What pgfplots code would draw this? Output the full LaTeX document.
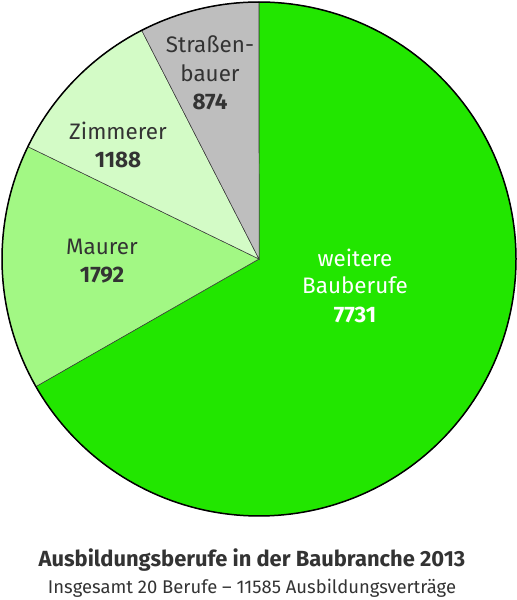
\documentclass[border=0pt]{standalone}
\usepackage{pgfplots}
\pgfplotsset{compat=1.18}
\usepackage{fontspec}
\setmainfont{Fira Sans}
\definecolor{cWeit}{HTML}{22E600}
\definecolor{cMaur}{HTML}{A2F884}
\definecolor{cZimm}{HTML}{D3FBC6}
\definecolor{cStr}{HTML}{BEBEBE}
\definecolor{txt}{HTML}{333333}
\begin{document}
\begin{tikzpicture}[x=1bp,y=1bp]
% values
\def\vW{7731}\def\vM{1792}\def\vZ{1188}\def\vS{874}
\pgfmathsetmacro{\tot}{\vW+\vM+\vZ+\vS}
\pgfmathsetmacro{\aA}{90}
\pgfmathsetmacro{\aB}{90-\vW/\tot*360}
\pgfmathsetmacro{\aC}{\aB-\vM/\tot*360}
\pgfmathsetmacro{\aD}{\aC-\vZ/\tot*360}
\pgfmathsetmacro{\aE}{\aD-\vS/\tot*360}
\begin{axis}[
  scale only axis, width=516bp, height=600bp,
  xmin=0, xmax=516, ymin=0, ymax=600,
  hide axis, clip=false,
]
\path (axis cs:0,0) rectangle (axis cs:516,600);
\addplot[fill=cWeit, draw=black!80, line width=0.5pt, domain=\aB:\aA, samples=120, variable=\t]
  ({259+257*cos(t)}, {341+257*sin(t)}) -- (axis cs:259,341) -- cycle;
\addplot[fill=cMaur, draw=black!80, line width=0.5pt, domain=\aC:\aB, samples=40, variable=\t]
  ({259+257*cos(t)}, {341+257*sin(t)}) -- (axis cs:259,341) -- cycle;
\addplot[fill=cZimm, draw=black!80, line width=0.5pt, domain=\aD:\aC, samples=30, variable=\t]
  ({259+257*cos(t)}, {341+257*sin(t)}) -- (axis cs:259,341) -- cycle;
\addplot[fill=cStr, draw=black!80, line width=0.5pt, domain=\aE:\aD, samples=30, variable=\t]
  ({259+257*cos(t)}, {341+257*sin(t)}) -- (axis cs:259,341) -- cycle;
\addplot[draw=black, line width=1.5pt, domain=0:360, samples=240, variable=\t]
  ({259+257*cos(t)}, {341+257*sin(t)});
% labels
\begin{scope}[every node/.style={anchor=base, inner sep=0pt, font=\fontsize{22.5}{26}\selectfont, text=txt}]
\node at (axis cs:210,547) {Straßen-};
\node at (axis cs:210,518) {bauer};
\node[font=\fontsize{22.5}{26}\selectfont\bfseries] at (axis cs:210,490) {874};
\node at (axis cs:118,460) {Zimmerer};
\node[font=\fontsize{22.5}{26}\selectfont\bfseries] at (axis cs:118,432) {1188};
\node at (axis cs:102,345) {Maurer};
\node[font=\fontsize{22.5}{26}\selectfont\bfseries] at (axis cs:102,317) {1792};
\node[text=white] at (axis cs:355,333) {weitere};
\node[text=white] at (axis cs:355,306) {Bauberufe};
\node[text=white, font=\fontsize{22.5}{26}\selectfont\bfseries] at (axis cs:355,277) {7731};
\node[font=\fontsize{22}{26}\selectfont\bfseries] at (axis cs:252,33) {Ausbildungsberufe in der Baubranche 2013};
\node[font=\fontsize{18.5}{23}\selectfont] at (axis cs:252,6) {Insgesamt 20 Berufe -- 11585 Ausbildungsverträge};
\end{scope}
\end{axis}
\end{tikzpicture}
\end{document}
